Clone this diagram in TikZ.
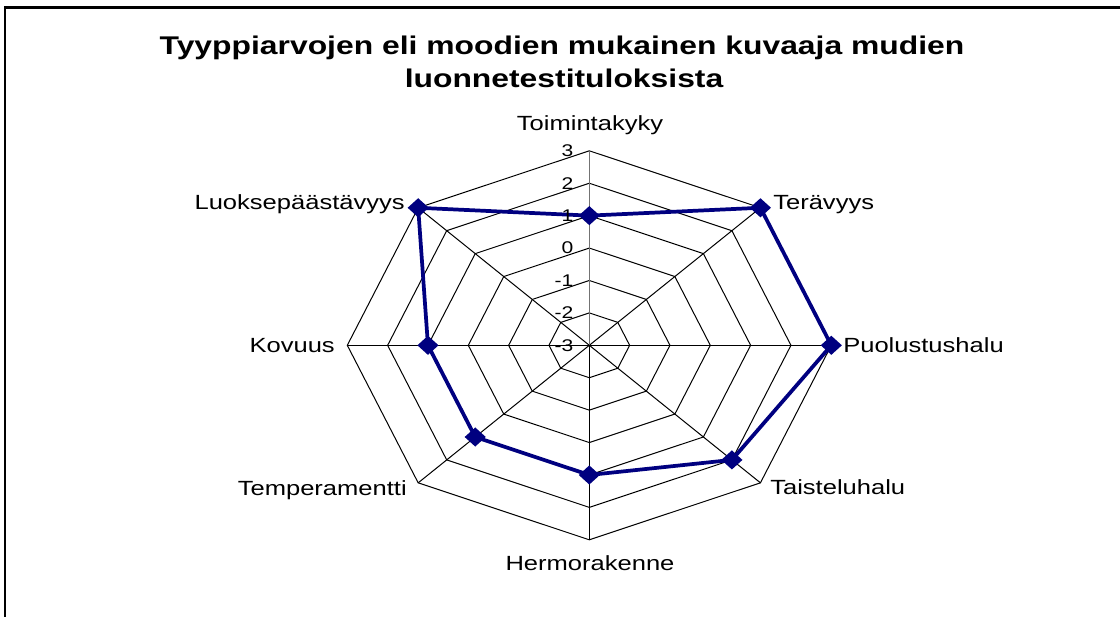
\documentclass[tikz,border=0pt]{standalone}
\usepackage{fontspec}
\setmainfont{Liberation Sans}[FakeStretch=1.244]
\usetikzlibrary{shapes.geometric}
\definecolor{navyline}{RGB}{0,0,128}
\begin{document}
\begin{tikzpicture}[x=0.75pt,y=-0.75pt,
  grid/.style={draw=black, line width=0.75pt},
  axisline/.style={draw=black!55, line width=1.1pt},
  series/.style={draw=navyline, line width=2.8pt, line join=round},
  marker/.style={shape=diamond, fill=navyline, draw=none, inner sep=0pt, minimum width=16pt, minimum height=14.5pt},
  catlabel/.style={font=\fontsize{15.4}{18}\selectfont, inner sep=0pt},
  ticklabel/.style={font=\fontsize{12.7}{15}\selectfont, inner sep=0pt, anchor=east},
  titletext/.style={font=\bfseries\fontsize{19.2}{24}\selectfont, inner sep=0pt, anchor=base},
  frame/.style={draw=black, line width=1.9pt}]
\useasboundingbox (0,0) rectangle (1120,617);
\clip (0,0) rectangle (1120,617);
\fill[white] (0,0) rectangle (1120,617);
\draw[frame] (5,7.5) rectangle (1135,640);
% title
\node[titletext] (title1) at (562,55) {Tyyppiarvojen eli moodien mukainen kuvaaja mudien};
\node[titletext] (title2) at (564,88) {luonnetestituloksista};
% chart
\coordinate (C) at (589.3,345.3);
\begin{scope}[shift={(C)}, x=181.5pt, y=145.875pt]
  \foreach \k in {1,...,6}{
    \pgfmathsetmacro{\r}{\k/6}
    \draw[grid] (90:\r) -- (45:\r) -- (0:\r) -- (-45:\r) -- (-90:\r) -- (-135:\r) -- (180:\r) -- (135:\r) -- cycle;
  }
  \foreach \a in {45,0,-45,-90,-135,180,135}{
    \draw[grid] (0,0) -- (\a:1);
  }
  \draw[axisline] (0,0) -- (90:1);
  % data: 1,3,3,2,1,1,1,3 on -3..3
  \coordinate (d1) at (90:0.6667);
  \coordinate (d2) at (45:1);
  \coordinate (d3) at (0:1);
  \coordinate (d4) at (-45:0.8333);
  \coordinate (d5) at (-90:0.6667);
  \coordinate (d6) at (-135:0.6667);
  \coordinate (d7) at (180:0.6667);
  \coordinate (d8) at (135:1);
  \draw[series] (d1) -- (d2) -- (d3) -- (d4) -- (d5) -- (d6) -- (d7) -- (d8) -- cycle;
  \foreach \i in {1,...,8}{
    \node[marker] (m\i) at (d\i) {};
  }
\end{scope}
% value axis labels
\node[ticklabel] (t3) at (573.5,150.8) {3};
\node[ticklabel] (t2) at (573.5,183.2) {2};
\node[ticklabel] (t1) at (573.5,215.7) {1};
\node[ticklabel] (t0) at (573.5,248.1) {0};
\node[ticklabel] (tm1) at (573.5,280.5) {-1};
\node[ticklabel] (tm2) at (573.5,312.9) {-2};
\node[ticklabel] (tm3) at (573.5,345.3) {-3};
% category labels
\node[catlabel, anchor=base] (lab1) at (590,130) {Toimintakyky};
\node[catlabel, anchor=base west] (lab2) at (773,209) {Terävyys};
\node[catlabel, anchor=base west] (lab3) at (843,352) {Puolustushalu};
\node[catlabel, anchor=base west] (lab4) at (770,494) {Taisteluhalu};
\node[catlabel, anchor=base] (lab5) at (590,570) {Hermorakenne};
\node[catlabel, anchor=base east] (lab6) at (407,495) {Temperamentti};
\node[catlabel, anchor=base east] (lab7) at (335,352) {Kovuus};
\node[catlabel, anchor=base east] (lab8) at (405,209) {Luoksepäästävyys};
\end{tikzpicture}
\end{document}
